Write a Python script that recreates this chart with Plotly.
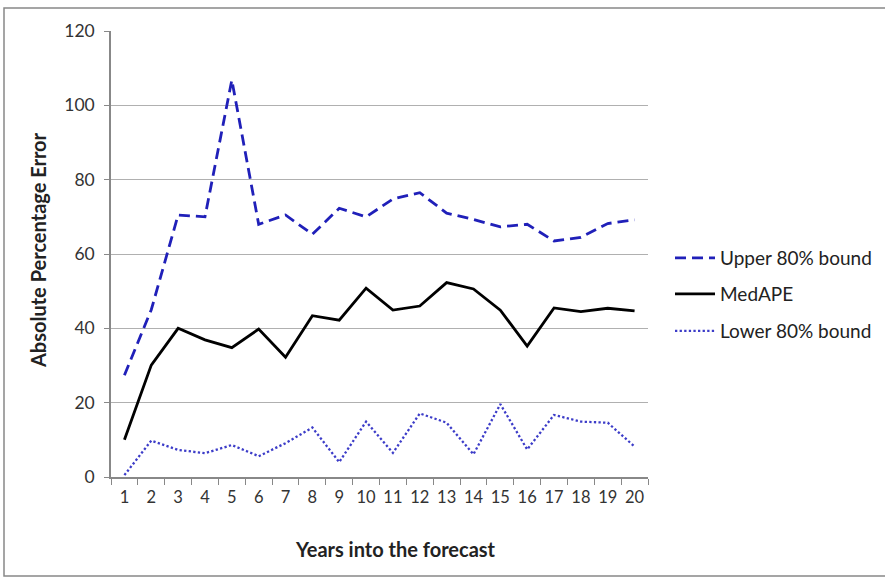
import plotly.graph_objects as go

years = [str(i) for i in range(1, 21)]
upper = [27.4, 45, 70.5, 70, 106.8, 68, 70.5, 65.3, 72.3, 70, 74.8, 76.5, 71, 69.3, 67.3, 68, 63.5, 64.5, 68.2, 69.2]
medape = [10, 30.1, 40, 36.9, 34.8, 39.8, 32.2, 43.4, 42.2, 50.8, 44.9, 46, 52.3, 50.6, 44.9, 35.2, 45.5, 44.5, 45.4, 44.7]
lower = [0.5, 9.8, 7.3, 6.4, 8.6, 5.6, 9.1, 13.3, 4.0, 14.9, 6.5, 17.1, 14.6, 6.1, 19.6, 7.4, 16.7, 14.9, 14.6, 8.2]
y_ticks = [0, 20, 40, 60, 80, 100, 120]

FONT = "Lato"
fig = go.Figure()
fig.add_trace(go.Scatter(x=years, y=upper, mode="lines", name="Upper 80% bound",
                         line=dict(color="rgb(32,32,185)", width=2.8, dash="11px,6px"), legend="legend"))
fig.add_trace(go.Scatter(x=years, y=medape, mode="lines", name="MedAPE",
                         line=dict(color="black", width=2.8), legend="legend2"))
fig.add_trace(go.Scatter(x=years, y=lower, mode="lines", name="Lower 80% bound",
                         line=dict(color="rgb(60,60,200)", width=2.3, dash="2.3px,2.3px"), legend="legend3"))

L, R, T, B = 111, 885 - 648, 31, 578 - 477
W, H = 648 - 111, 477 - 31

def px(x):
    return (x - L) / W

def py(y):
    return (477 - y) / H

leg = dict(font=dict(family=FONT, size=19, color="#222"), bgcolor="rgba(0,0,0,0)",
           xanchor="left", yanchor="middle", itemwidth=40, x=px(670))
fig.update_layout(
    width=885, height=578,
    margin=dict(l=L, r=R, t=T, b=B, autoexpand=False),
    plot_bgcolor="white", paper_bgcolor="white",
    showlegend=True,
    legend=dict(leg, y=py(258)),
    legend2=dict(leg, y=py(294)),
    legend3=dict(leg, y=py(331)),
    xaxis=dict(type="category", range=[-0.5, 19.5], tickson="boundaries", ticks="outside", ticklen=6,
               tickcolor="#888", showline=True, linecolor="#888", linewidth=1.5, tickangle=0,
               showgrid=False, tickfont=dict(family=FONT, size=16.5, color="#333"),
               ticklabelstandoff=4, fixedrange=True),
    yaxis=dict(range=[0, 120], tickvals=y_ticks, ticks="outside", ticklen=5,
               tickcolor="#888", showline=True, linecolor="#888", linewidth=1.5,
               showgrid=True, gridcolor="#b0b0b0", gridwidth=1.3, zeroline=False,
               tickfont=dict(family=FONT, size=17.5, color="#333"), ticklabelstandoff=6),
    annotations=[
        dict(text="<b>Absolute Percentage Error</b>", textangle=-90, xref="paper", yref="paper",
             x=px(38), y=py(250), xanchor="center", yanchor="middle", showarrow=False,
             font=dict(family=FONT, size=20, color="#222")),
        dict(text="<b>Years into the forecast</b>", xref="paper", yref="paper",
             x=px(395), y=py(549), xanchor="center", yanchor="middle", showarrow=False,
             font=dict(family=FONT, size=20, color="#222")),
    ],
    shapes=[
        dict(type="rect", xref="paper", yref="paper", x0=px(4), x1=px(890), y0=py(576), y1=py(8),
             line=dict(color="#888", width=1.5), layer="below"),
    ],
)
fig.write_html("out.html", config={"displayModeBar": False},
               post_script="document.body.style.margin='0';document.body.style.padding='0';")
